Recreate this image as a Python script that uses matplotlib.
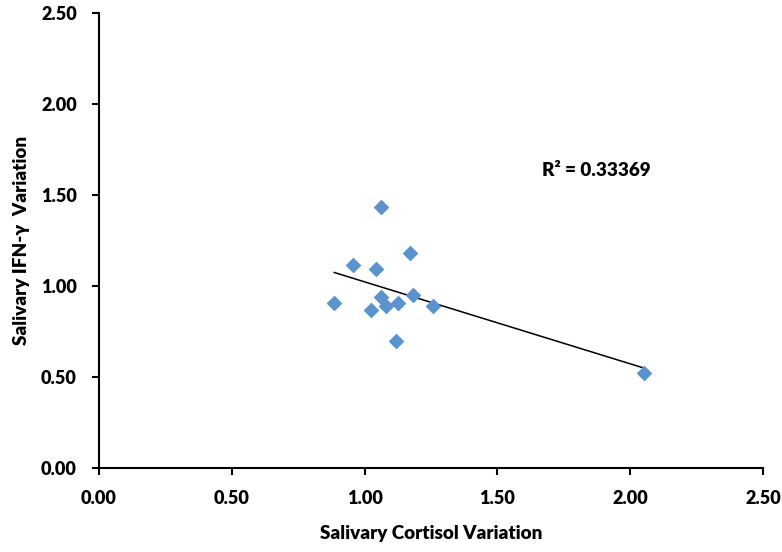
import numpy as np
import matplotlib.pyplot as plt

# cortisol vs IFN-gamma variation
cortisol = [0.886, 0.957, 1.025, 1.044, 1.062, 1.060, 1.080, 1.117, 1.126, 1.170, 1.183, 1.257, 2.052]
ifn_gamma = [0.908, 1.114, 0.868, 1.094, 1.432, 0.937, 0.888, 0.698, 0.909, 1.180, 0.950, 0.888, 0.521]
r2_text = "R² = 0.33369"
ticks = [0.0, 0.5, 1.0, 1.5, 2.0, 2.5]

plt.rcParams['font.family'] = ['Lato', 'DejaVu Sans']
fs = 13.6
tfs = 13.0
fw = 'heavy'

fig = plt.figure(figsize=(7.82, 5.52), dpi=100)
ax = fig.add_axes([0.1266, 0.1522, 0.8490, 0.8243])

ax.scatter(cortisol, ifn_gamma, marker='D', s=64, color='#5B93CD', zorder=3, linewidths=0)

# linear trend line over the data range
k, b = np.polyfit(cortisol, ifn_gamma, 1)
xs = np.array([min(cortisol), max(cortisol)])
ax.plot(xs, k * xs + b, color='black', lw=1.1, zorder=2)

ax.text(1.667, 1.637, r2_text, fontsize=fs, fontweight=fw, va='center', ha='left')

ax.set_xlim(0, 2.5)
ax.set_ylim(0, 2.5)
ax.set_xticks(ticks)
ax.set_yticks(ticks)
ax.set_xticklabels([f"{t:.2f}" for t in ticks], fontsize=tfs, fontweight=fw)
ax.set_yticklabels([f"{t:.2f}" for t in ticks], fontsize=tfs, fontweight=fw)
ax.tick_params(direction='out', length=5, width=1.5, pad=11)

for s in ['top', 'right']:
    ax.spines[s].set_visible(False)
for s in ['left', 'bottom']:
    ax.spines[s].set_linewidth(1.5)

ax.set_xlabel("Salivary Cortisol Variation", fontsize=fs, fontweight=fw, labelpad=13)
ax.set_ylabel("Salivary IFN-γ  Variation", fontsize=fs, fontweight=fw, labelpad=8)

fig.savefig("out.png", dpi=100)
